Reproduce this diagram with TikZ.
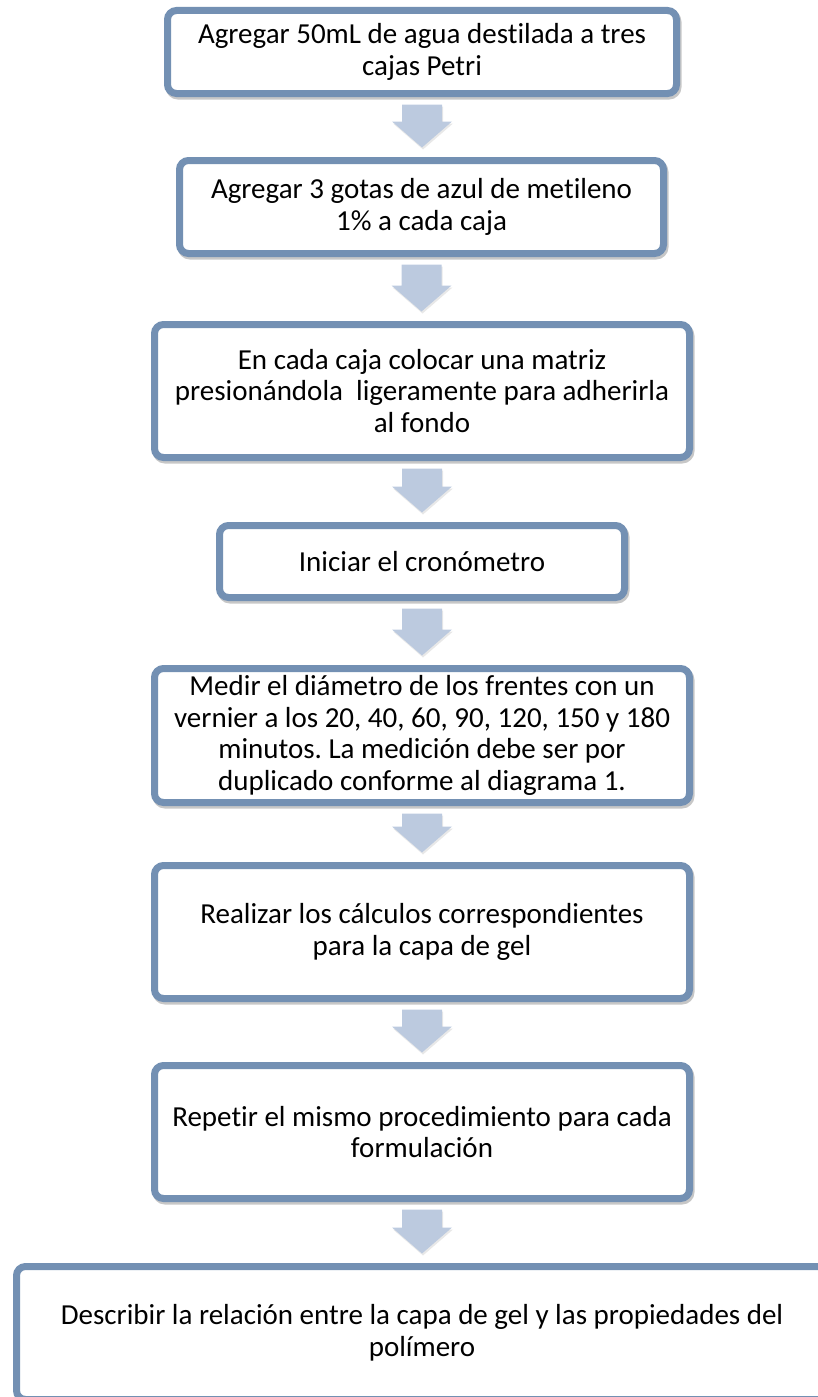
\documentclass[tikz,border=0pt]{standalone}
\usepackage{fontspec}
\setmainfont{Carlito}[Ligatures=NoCommon]
\usetikzlibrary{calc,shadows}
\definecolor{pasoborde}{RGB}{115,144,179}
\definecolor{flechaazul}{RGB}{188,202,223}
\frenchspacing
\begin{document}
\begin{tikzpicture}[x=1pt,y=-1pt,
  paso/.style={draw=pasoborde,line width=7pt,rounded corners=9pt,fill=white,
    align=center,inner sep=0pt,font=\fontsize{29}{31.5}\selectfont,
    drop shadow={shadow xshift=1.5pt,shadow yshift=-2.5pt,opacity=.22,
      fill=none,draw=black,line width=7pt}},
  flecha/.style={fill=flechaazul,
    drop shadow={shadow xshift=1pt,shadow yshift=-2pt,opacity=.18}}]
\clip (0,0) rectangle (818,1397);
%
\node[paso,minimum width=509,minimum height=83] (agua) at (422,52)
  {Agregar 50mL de agua destilada a tres\\cajas Petri};
\node[paso,minimum width=484,minimum height=93] (azul) at (421.5,207)
  {Agregar 3 gotas de azul de metileno\\1\% a cada caja};
\node[paso,minimum width=535,minimum height=133] (matriz) at (422,391)
  {En cada caja colocar una matriz\\presionándola~ ligeramente para adherirla\\al fondo};
\node[paso,minimum width=405,minimum height=72] (crono) at (422,561.5)
  {Iniciar el cronómetro};
\node[paso,minimum width=535,minimum height=134] (medir) at (422,735.5)
  {Medir el diámetro de los frentes con un\\vernier a los 20, 40, 60, 90, 120, 150 y 180\\minutos. La medición debe ser por\\duplicado conforme al diagrama 1.};
\node[paso,minimum width=535,minimum height=133] (calculo) at (422,932)
  {Realizar los cálculos correspondientes\\para la capa de gel};
\node[paso,minimum width=535,minimum height=133] (repetir) at (422,1132)
  {Repetir el mismo procedimiento para cada\\formulación};
\node[paso,minimum width=811,minimum height=133] (describir) at (422,1333)
  {Describir la relación entre la capa de gel y las propiedades del\\polímero};
%
\foreach \a/\b in {agua/azul,azul/matriz,matriz/crono,crono/medir,
    medir/calculo,calculo/repetir,repetir/describir}
  \path[flecha] let \p1=(\a.south), \p2=(\b.north) in
    (\x1-20pt,\y1-7.5pt) -- (\x1+20pt,\y1-7.5pt) -- (\x1+20pt,\y2+35.5pt)
    -- (\x1+30pt,\y2+35.5pt) -- (\x1,\y2+9.5pt) -- (\x1-30pt,\y2+35.5pt)
    -- (\x1-20pt,\y2+35.5pt) -- cycle;
\end{tikzpicture}
\end{document}
